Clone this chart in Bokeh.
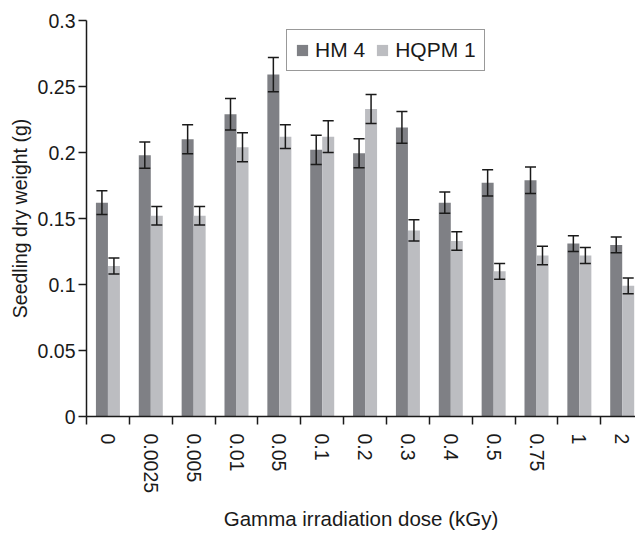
from bokeh.plotting import figure
from bokeh.models import Range1d, FixedTicker, Legend, LegendItem, Whisker, ColumnDataSource, TeeHead
from bokeh.transform import dodge
from bokeh.embed import file_html
from bokeh.resources import INLINE

doses = ["0", "0.0025", "0.005", "0.01", "0.05", "0.1", "0.2", "0.3", "0.4", "0.5", "0.75", "1", "2"]
hm4 = [0.162, 0.198, 0.210, 0.229, 0.259, 0.202, 0.1995, 0.219, 0.162, 0.177, 0.179, 0.131, 0.130]
hm4_err = [0.009, 0.010, 0.011, 0.012, 0.013, 0.011, 0.011, 0.012, 0.008, 0.010, 0.010, 0.006, 0.006]
hqpm1 = [0.114, 0.152, 0.152, 0.204, 0.212, 0.212, 0.233, 0.141, 0.133, 0.110, 0.122, 0.122, 0.099]
hqpm1_err = [0.006, 0.007, 0.007, 0.011, 0.009, 0.012, 0.011, 0.008, 0.007, 0.006, 0.007, 0.006, 0.006]
y_ticks = [0, 0.05, 0.1, 0.15, 0.2, 0.25, 0.3]
y_tick_labels = ["0", "0.05", "0.1", "0.15", "0.2", "0.25", "0.3"]

HM_COLOR = "#7f8085"
HQ_COLOR = "#bcbdc1"
TXT = "#1a1a1a"
FONT = "Liberation Sans"

n = len(doses)
pos = [i + 0.5 for i in range(n)]
src = ColumnDataSource(dict(
    pos=pos, hm4=hm4, hqpm1=hqpm1,
    hm4_up=[v + e for v, e in zip(hm4, hm4_err)],
    hm4_lo=[v - e for v, e in zip(hm4, hm4_err)],
    hq_up=[v + e for v, e in zip(hqpm1, hqpm1_err)],
    hq_lo=[v - e for v, e in zip(hqpm1, hqpm1_err)],
))

p = figure(width=635, height=533, output_backend="svg", toolbar_location=None,
           x_range=Range1d(0, 12.81), y_range=Range1d(0, 0.3),
           min_border_left=86, min_border_right=0, min_border_top=20, min_border_bottom=115)
p.outline_line_color = None
p.xgrid.visible = False
p.ygrid.visible = False

r1 = p.vbar(x=dodge("pos", -0.14, range=p.x_range), top="hm4", width=0.28, source=src,
            fill_color=HM_COLOR, line_color=None)
r2 = p.vbar(x=dodge("pos", 0.14, range=p.x_range), top="hqpm1", width=0.28, source=src,
            fill_color=HQ_COLOR, line_color=None)

for off, up, lo in [(-0.14, "hm4_up", "hm4_lo"), (0.14, "hq_up", "hq_lo")]:
    w = Whisker(base=dodge("pos", off, range=p.x_range), upper=up, lower=lo, source=src,
                line_color=TXT, line_width=1.5, level="overlay",
                upper_head=TeeHead(size=11, line_color=TXT, line_width=1.5),
                lower_head=TeeHead(size=11, line_color=TXT, line_width=1.5))
    p.add_layout(w)

# x axis: labels at category centres, ticks at boundaries
xa = p.xaxis[0]
xa.ticker = FixedTicker(ticks=pos, minor_ticks=list(range(n + 1)))
xa.major_label_overrides = {pv: d for pv, d in zip(pos, doses)}
xa.major_label_orientation = "vertical"
xa.major_tick_line_color = None
xa.major_tick_out = 8
xa.major_tick_in = 0
xa.minor_tick_line_color = TXT
xa.minor_tick_line_width = 1.5
xa.minor_tick_out = 8
xa.minor_tick_in = 0
xa.major_label_standoff = 9
xa.axis_line_color = TXT
xa.axis_line_width = 1.5
xa.axis_label = "Gamma irradiation dose (kGy)"
xa.axis_label_standoff = 11
xa.axis_label_text_font_size = "20.5px"

ya = p.yaxis[0]
ya.ticker = FixedTicker(ticks=y_ticks, minor_ticks=[])
ya.major_label_overrides = {t: l for t, l in zip(y_ticks, y_tick_labels)}
ya.major_tick_out = 8
ya.major_tick_in = 0
ya.major_tick_line_color = TXT
ya.major_tick_line_width = 1.5
ya.minor_tick_line_color = None
ya.axis_line_color = TXT
ya.axis_line_width = 1.5
ya.major_label_standoff = 3
ya.axis_label = "Seedling dry weight (g)"
ya.axis_label_standoff = 4
ya.axis_label_text_font_size = "19.5px"

for ax in (xa, ya):
    ax.major_label_text_font = FONT
    ax.major_label_text_font_size = "19.5px"
    ax.major_label_text_color = TXT
    ax.axis_label_text_font = FONT
    ax.axis_label_text_font_style = "normal"
    ax.axis_label_text_color = TXT

legend = Legend(items=[LegendItem(label="HM 4", renderers=[r1]),
                       LegendItem(label="HQPM 1", renderers=[r2])],
                orientation="horizontal", location=(200, 345),
                glyph_width=14, glyph_height=14, label_standoff=6, spacing=10,
                padding=8, margin=0,
                label_text_font=FONT, label_text_font_size="21px", label_text_color=TXT,
                label_height=20,
                border_line_color="#333333", border_line_width=1.5,
                background_fill_alpha=1.0)
p.add_layout(legend)

open("out.html", "w").write(file_html(p, INLINE))
